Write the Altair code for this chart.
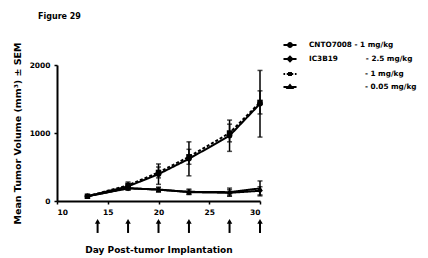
import altair as alt
import pandas as pd

days = [13, 17, 20, 23, 27, 30]
series_names = ["CNTO7008 - 1 mg/kg", "IC3B19 - 2.5 mg/kg", "IC3B19 - 1 mg/kg", "IC3B19 - 0.05 mg/kg"]
NB = "\u00a0"
ZW = "\u200b"
legend_labels = ["CNTO7008 - 1 mg/kg",
                 "IC3B19" + NB * 11 + "- 2.5 mg/kg",
                 ZW + NB * 22 + "- 1 mg/kg",
                 ZW + NB * 22 + "- 0.05 mg/kg"]
means = {
    "CNTO7008 - 1 mg/kg": [70, 215, 395, 620, 960, 1430],
    "IC3B19 - 2.5 mg/kg": [70, 185, 170, 130, 120, 150],
    "IC3B19 - 1 mg/kg": [70, 230, 420, 650, 1000, 1450],
    "IC3B19 - 0.05 mg/kg": [70, 190, 165, 135, 130, 185],
}
sems = {
    "CNTO7008 - 1 mg/kg": [10, 30, 150, 250, 230, 490],
    "IC3B19 - 2.5 mg/kg": [10, 25, 35, 30, 45, 60],
    "IC3B19 - 1 mg/kg": [10, 50, 80, 110, 130, 170],
    "IC3B19 - 0.05 mg/kg": [10, 20, 30, 40, 60, 110],
}
dose_days = [14, 17, 20, 23, 27, 30]
arrow_bottom = [-470] * 6
arrow_top = [-300] * 6

rows = []
for s in series_names:
    for d, m, e in zip(days, means[s], sems[s]):
        rows.append({"series": s, "day": d, "mean": m, "lo": m - e, "hi": m + e})
df = pd.DataFrame(rows)
arrows = pd.DataFrame({"day": dose_days, "y0": arrow_bottom, "y1": arrow_top})

FONT = "DejaVu Sans"
xs = alt.Scale(domain=[10, 30], zero=False)
ys = alt.Scale(domain=[0, 2000])

x = alt.X("day:Q", scale=xs, title="Day Post-tumor Implantation",
          axis=alt.Axis(values=[10, 15, 20, 25, 30], titlePadding=30, titleFontSize=9))
y = alt.Y("mean:Q", scale=ys, title="Mean Tumor Volume (mm³) ± SEM",
          axis=alt.Axis(values=[0, 500, 1000, 1500, 2000], format="d", titlePadding=7,
                        titleFontSize=9.5))
xp = alt.X("day:Q", scale=xs)

dash = alt.StrokeDash("series:N", scale=alt.Scale(domain=series_names,
                      range=[[1, 0], [1, 0], [3, 2], [1, 0]]), legend=None)

lines = alt.Chart(df).mark_line(color="black", strokeWidth=2).encode(x=x, y=y, strokeDash=dash, detail="series:N")

err = alt.Chart(df).mark_rule(color="black", strokeWidth=1.5).encode(x=xp, y="lo:Q", y2="hi:Q")
cap_hi = alt.Chart(df).mark_tick(color="black", thickness=1.5, size=5, orient="horizontal").encode(x=xp, y="hi:Q")
cap_lo = alt.Chart(df).mark_tick(color="black", thickness=1.5, size=5, orient="horizontal").encode(x=xp, y="lo:Q")

points = alt.Chart(df).mark_point(filled=True, color="black", size=30, opacity=1).encode(
    x=xp, y="mean:Q",
    shape=alt.Shape("series:N", scale=alt.Scale(domain=series_names,
                    range=["circle", "diamond", "square", "triangle-up"]), legend=None))

leg_paths = [
    "M-1,0L1,0M-0.3,0A0.3,0.3 0 1,0 0.3,0A0.3,0.3 0 1,0 -0.3,0Z",
    "M-1,0L1,0M-0.35,0L0,-0.35L0.35,0L0,0.35Z",
    "M-1,0L-0.75,0M-0.5,0L-0.25,0M0.25,0L0.5,0M0.75,0L1,0M-0.15,-0.15L0.15,-0.15L0.15,0.15L-0.15,0.15Z",
    "M-1,0L1,0M-0.35,0.15L0,-0.3L0.35,0.15Z",
]
label_expr = " : ".join(
    [f"datum.label == '{s}' ? '{l}'" for s, l in zip(series_names, legend_labels)]) + " : datum.label"

legend_layer = alt.Chart(df).mark_point(filled=False, color="black", strokeWidth=2,
                                        opacity=0).encode(
    x=xp, y="mean:Q",
    shape=alt.Shape("series:N", scale=alt.Scale(domain=series_names, range=leg_paths),
                    sort=series_names,
                    legend=alt.Legend(title=None, orient="none", legendX=225, legendY=-28,
                                      symbolSize=170, symbolOpacity=1, symbolFillColor="black",
                                      symbolStrokeColor="black", symbolStrokeWidth=2,
                                      labelFont=FONT, labelFontSize=7.3, labelFontWeight="bold",
                                      labelColor="black", rowPadding=0, labelOffset=11,
                                      labelExpr=label_expr, labelLimit=300)))

arrow_shaft = alt.Chart(arrows).mark_rule(color="black", strokeWidth=2, clip=False).encode(
    x=xp, y="y0:Q", y2="y1:Q")
arrow_head = alt.Chart(arrows).mark_point(shape="triangle-up", filled=True, color="black",
                                          size=30, opacity=1, clip=False).encode(x=xp, y="y1:Q")

chart = alt.layer(legend_layer, lines, err, cap_hi, cap_lo, points, arrow_shaft, arrow_head).resolve_scale(
    shape="independent"
).properties(
    width=203, height=136,
    autosize=alt.AutoSizeParams(type="none"),
    padding={"left": 49, "top": 57, "right": 160, "bottom": 55},
    title=alt.TitleParams("Figure 29", anchor="start", frame="group", font=FONT, fontSize=8,
                          fontWeight="bold", dx=-19, offset=16, color="black"),
).configure_view(stroke=None).configure_axis(
    domainColor="black", domainWidth=2, tickColor="black", tickWidth=1.5, tickSize=3,
    grid=False, labelFont=FONT, labelFontSize=7.5, labelFontWeight="bold", labelColor="black",
    titleFont=FONT, titleFontSize=8, titleFontWeight="bold", titleColor="black", labelPadding=4
)

chart.save("out.html", embed_options={"renderer": "svg", "actions": False})
